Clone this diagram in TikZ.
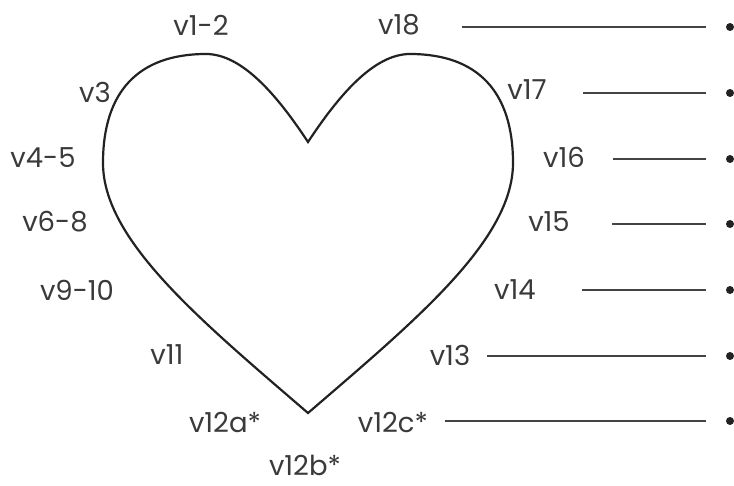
\documentclass[tikz,border=0pt]{standalone}
\usepackage{fontspec}
\setmainfont{Poppins}
\definecolor{ink}{HTML}{222222}
\definecolor{txt}{HTML}{3A3A3A}
\begin{document}
\begin{tikzpicture}[x=1pt,y=-1pt,
  lbl/.style={inner sep=0pt,text=txt,font=\fontsize{27.5}{31}\selectfont},
  dotnode/.style={circle,fill=ink,inner sep=0pt,minimum size=8pt},
  conn/.style={draw=ink!85,line width=1.1pt},
  heartline/.style={draw=ink,line width=2.2pt,line join=miter}]
\useasboundingbox (0,0) rectangle (734,485);
% heart
\draw[heartline] (308,142) .. controls (277,95) and (242,54) .. (206,54)
  .. controls (138,54) and (103,92) .. (103,163)
  .. controls (103,240) and (200,320) .. (308,413)
  .. controls (416,320) and (513,240) .. (513,163)
  .. controls (513,92) and (478,54) .. (410,54)
  .. controls (374,54) and (339,95) .. (308,142) -- cycle;
% labels
\node[lbl] (v12) at (201,25) {v1-2};
\node[lbl] (v3) at (95,92) {v3};
\node[lbl] (v45) at (43,158) {v4-5};
\node[lbl] (v68) at (55,222) {v6-8};
\node[lbl] (v910) at (77,290) {v9-10};
\node[lbl] (v11) at (167,355) {v11};
\node[lbl] (v12a) at (225,422) {v12a*};
\node[lbl] (v12b) at (305,465) {v12b*};
\node[lbl] (v12c) at (393,422) {v12c*};
\node[lbl] (v13) at (450,355) {v13};
\node[lbl] (v14) at (515,290) {v14};
\node[lbl] (v15) at (549,222) {v15};
\node[lbl] (v16) at (564,157) {v16};
\node[lbl] (v17) at (527,90) {v17};
\node[lbl] (v18) at (399,25) {v18};
% dots
\foreach \n/\y in {1/27,2/93,3/159,4/224,5/290,6/356,7/421}{
  \node[dotnode] (d\n) at (730,\y) {};
  \coordinate (e\n) at (706,\y);
}
\coordinate (s1) at (462,27);
\coordinate (s2) at (583,93);
\coordinate (s3) at (613,159);
\coordinate (s4) at (612,224);
\coordinate (s5) at (582,290);
\coordinate (s6) at (487,356);
\coordinate (s7) at (445,421);
\foreach \n in {1,...,7}{\draw[conn] (s\n) -- (e\n);}
\end{tikzpicture}
\end{document}
